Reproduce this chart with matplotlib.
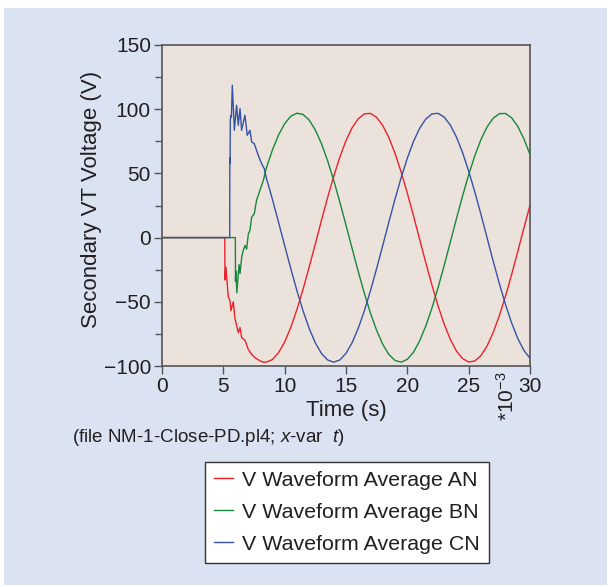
import matplotlib
matplotlib.use("Agg")
import matplotlib.pyplot as plt
from matplotlib.patches import Rectangle
from matplotlib.ticker import MultipleLocator

plt.rcParams["font.family"] = ["Liberation Sans", "DejaVu Sans"]
plt.rcParams["mathtext.fontset"] = "custom"
plt.rcParams["mathtext.rm"] = "Liberation Sans"
plt.rcParams["mathtext.it"] = "Liberation Sans:italic"
plt.rcParams["axes.unicode_minus"] = True

# ---- data (time in ms, voltage in V) ----
# breaker-closing transient, per phase
an_t_transient = [0, 5.12, 5.13, 5.21, 5.30, 5.40, 5.54, 5.62, 5.81, 5.95, 6.22,
                  6.36, 6.50, 6.77, 7.03, 7.31, 7.58, 7.99, 8.25]
an_v_transient = [0, 0, -33, -23, -34, -46, -49, -57, -50, -63, -74,
                  -70, -78, -80, -87, -91, -93.5, -96, -97]

bn_t_transient = [0, 5.98, 5.99, 6.03, 6.10, 6.28, 6.36, 6.50, 6.63, 6.77, 6.90,
                  7.04, 7.17, 7.31, 7.52, 7.71, 7.99, 8.26]
bn_v_transient = [0, 0, -34, -26, -43, -21, -28, -15, -10, -6, -9,
                  3, 5.5, 16, 18.5, 29, 37, 44.5]

cn_t_transient = [0, 5.52, 5.53, 5.55, 5.57, 5.62, 5.66, 5.73, 5.90, 6.08, 6.22,
                  6.36, 6.49, 6.76, 6.95, 7.17, 7.31, 7.52, 7.85, 8.12, 8.34]
cn_v_transient = [0, 0, 62, 58, 92, 95, 94, 118.7, 83.6, 103.1, 87.5,
                  100.5, 83.6, 95.3, 79.7, 83.6, 74.5, 73.2, 64, 57.6, 53.6]

# steady-state samples after the transient
t_steady = [8.5, 9.0, 9.5, 10.0, 10.5, 11.0, 11.5, 12.0, 12.5, 13.0, 13.5,
            14.0, 14.5, 15.0, 15.5, 16.0, 16.5, 17.0, 17.5, 18.0, 18.5, 19.0,
            19.5, 20.0, 20.5, 21.0, 21.5, 22.0, 22.5, 23.0, 23.5, 24.0, 24.5,
            25.0, 25.5, 26.0, 26.5, 27.0, 27.5, 28.0, 28.5, 29.0, 29.5, 30.0]
an_v_steady = [-97.0, -95.0, -89.7, -81.3, -69.9, -56.0, -40.2, -22.9, -4.9, 13.4, 31.1,
               47.8, 62.7, 75.5, 85.6, 92.6, 96.4, 96.7, 93.6, 87.2, 77.8, 65.5,
               50.9, 34.6, 17.0, -1.2, -19.4, -36.8, -53.0, -67.3, -79.2, -88.3, -94.2,
               -96.9, -96.1, -91.9, -84.4, -73.9, -60.9, -45.7, -28.8, -10.9, 7.3, 25.3]
bn_v_steady = [54.0, 68.2, 79.9, 88.8, 94.5, 96.9, 95.9, 91.5, 83.8, 73.2, 59.9,
               44.6, 27.6, 9.7, -8.5, -26.5, -43.5, -59.0, -72.3, -83.2, -91.1, -95.7,
               -97.0, -94.8, -89.3, -80.5, -69.0, -55.0, -39.1, -21.8, -3.7, 14.6, 32.3,
               48.9, 63.7, 76.3, 86.2, 93.0, 96.5, 96.7, 93.3, 86.7, 77.0, 64.7]
cn_v_steady = [46.6, 29.9, 12.0, -6.2, -24.2, -41.4, -57.1, -70.8, -82.0, -90.2, -95.3,
               -97.0, -95.3, -90.1, -81.8, -70.6, -56.9, -41.2, -24.0, -6.0, 12.3, 30.1,
               46.8, 61.9, 74.8, 85.1, 92.3, 96.3, 96.8, 93.9, 87.7, 78.4, 66.3,
               51.8, 35.6, 18.1, -0.1, -18.3, -35.8, -52.0, -66.4, -78.5, -87.8, -94.0]

series_labels = ["V Waveform Average AN", "V Waveform Average BN", "V Waveform Average CN"]
series_colors = ["#e8232b", "#16883a", "#3553a5"]
x_ticks = [0, 5, 10, 15, 20, 25, 30]
y_ticks = [-100, -50, 0, 50, 100, 150]

series = [
    (an_t_transient + t_steady, an_v_transient + an_v_steady),
    (bn_t_transient + t_steady, bn_v_transient + bn_v_steady),
    (cn_t_transient + t_steady, cn_v_transient + cn_v_steady),
]

W, H = 609, 587
fig = plt.figure(figsize=(W / 100, H / 100), dpi=100, facecolor="white")

# light blue panel behind everything
fig.patches.append(Rectangle((4 / W, 2 / H), 603 / W, 577 / H,
                             transform=fig.transFigure, facecolor="#dbe2f1",
                             edgecolor="none", zorder=-10))

ax = fig.add_axes([162 / W, 1 - 366 / H, 368 / W, 321 / H])
ax.set_facecolor("#ece2dc")

for (t, v), lab, col in zip(series, series_labels, series_colors):
    ax.plot(t, v, color=col, lw=1.0, label=lab)

ax.set_xlim(0, 30)
ax.set_ylim(-100, 150)
ax.set_xticks(x_ticks)
ax.set_yticks(y_ticks)
ax.yaxis.set_minor_locator(MultipleLocator(25))

text_color = "#231f20"
spine_color = "#555555"
for s in ax.spines.values():
    s.set_color(spine_color)
    s.set_linewidth(1.2)
ax.tick_params(axis="both", which="major", direction="out", length=6, width=1.0,
               color=spine_color, labelsize=15, labelcolor=text_color, pad=2)
ax.tick_params(axis="y", which="minor", direction="out", length=5, width=1.0,
               color=spine_color)

ax.set_xlabel("Time (s)", fontsize=16, color=text_color, labelpad=3)
ax.set_ylabel("Secondary VT Voltage (V)", fontsize=16, color=text_color, labelpad=2)
ax.yaxis.set_label_coords(-0.162, 0.52)

fig.text(507 / W, 1 - 396 / H, r"*10$^{-3}$", rotation=90, fontsize=15,
         color=text_color, ha="center", va="center")
fig.text(72 / W, 1 - 437 / H, r"(file NM-1-Close-PD.pl4; $\it{x}$-var  $\it{t}$)",
         fontsize=13.5, color=text_color, ha="left", va="center")

leg = fig.legend(loc="upper left", bbox_to_anchor=(205 / W, 1 - 462 / H),
                 bbox_transform=fig.transFigure, fontsize=15.4, frameon=True,
                 fancybox=False, edgecolor="#333333", framealpha=1,
                 handlelength=0.9, handletextpad=0.4, labelspacing=0.6,
                 borderpad=0.42, borderaxespad=0)
leg.get_frame().set_linewidth(1.0)
for txt in leg.get_texts():
    txt.set_color(text_color)

fig.savefig("out.png", dpi=100, facecolor="white")
